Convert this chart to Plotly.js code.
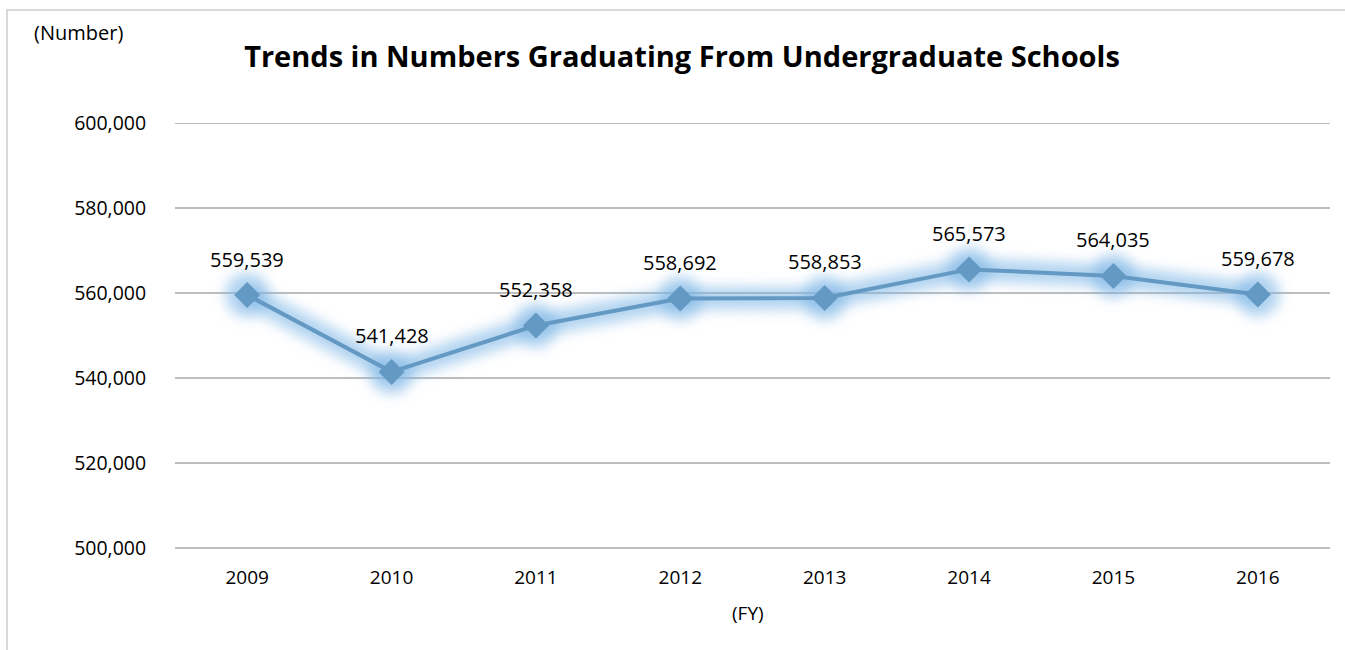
<!DOCTYPE html>
<html>
<head>
<meta charset="utf-8">
<script src="https://cdn.plot.ly/plotly-3.0.1.min.js"></script>
<style>
  html, body { margin: 0; padding: 0; background: #fff; }
  #wrap { position: relative; width: 1345px; height: 650px; overflow: hidden; }
  #chart { width: 1345px; height: 650px; }
  #frame { position: absolute; left: 6px; top: 9px; right: -10px; bottom: -10px;
           border-left: 2px solid #d9d9d9; border-top: 2px solid #d9d9d9; pointer-events: none; }
</style>
</head>
<body>
<div id="wrap">
  <div id="chart"></div>
  <div id="frame"></div>
</div>
<script>
const years = ["2009", "2010", "2011", "2012", "2013", "2014", "2015", "2016"];
const graduates = [559539, 541428, 552358, 558692, 558853, 565573, 564035, 559678];
const yTicks = [500000, 520000, 540000, 560000, 580000, 600000];
const chartTitle = "Trends in Numbers Graduating From Undergraduate Schools";
const yUnit = "(Number)";
const xUnit = "(FY)";

const FONT = "Open Sans, Noto Sans, sans-serif";
const lineColor = "#6399c3";

// y range padded slightly so the 500,000 and 600,000 gridlines are drawn
const yMin = 499000, yMax = 601000;
const pxPerUnit = 425 / 100000;
const plotH = (yMax - yMin) * pxPerUnit;
const topM = 123 - (yMax - 600000) * pxPerUnit;
const botM = 650 - topM - plotH;
const paperY = px => (650 - botM - px) / plotH;
const paperX = px => (px - 175) / 1155;

const glow = {
  x: years, y: graduates, type: "scatter", mode: "lines+markers",
  line: { color: "rgba(125,182,230,0.6)", width: 22 },
  marker: { symbol: "circle", size: 44, color: "rgba(125,182,230,0.6)" },
  hoverinfo: "skip", showlegend: false, cliponaxis: false
};
const main = {
  x: years, y: graduates, type: "scatter", mode: "lines+markers",
  line: { color: lineColor, width: 4 },
  marker: { symbol: "diamond", size: 20, color: lineColor },
  showlegend: false
};

const labelAnns = years.map((yr, i) => ({
  x: i, y: graduates[i], xref: "x", yref: "y",
  text: graduates[i].toLocaleString("en-US"),
  showarrow: false, yshift: 36,
  font: { family: FONT, size: 20, color: "#000" }
}));

const layout = {
  width: 1345, height: 650,
  paper_bgcolor: "#fff", plot_bgcolor: "#fff",
  margin: { l: 175, r: 15, t: topM, b: botM },
  title: {
    text: "<b>" + chartTitle + "</b>",
    x: paperX(682), xanchor: "center", xref: "paper",
    y: 1 - 57 / 650, yanchor: "middle", yref: "container",
    font: { family: FONT, size: 29, color: "#000" }
  },
  xaxis: {
    type: "category", range: [-0.5, 7.5],
    showgrid: false, zeroline: false, showline: false,
    ticks: "outside", ticklen: 8, tickcolor: "rgba(0,0,0,0)",
    tickfont: { family: FONT, size: 19, color: "#000" },
    fixedrange: true
  },
  yaxis: {
    range: [yMin, yMax],
    tickvals: yTicks,
    ticktext: yTicks.map(v => v.toLocaleString("en-US")),
    showgrid: true, gridcolor: "#bdbdbd", gridwidth: 1.5,
    zeroline: false, showline: false,
    ticks: "outside", ticklen: 24, tickcolor: "rgba(0,0,0,0)",
    tickfont: { family: FONT, size: 19.5, color: "#000" },
    fixedrange: true
  },
  annotations: labelAnns.concat([
    { text: yUnit, xref: "paper", yref: "paper", x: paperX(78), y: paperY(32),
      xanchor: "center", yanchor: "middle", showarrow: false,
      font: { family: FONT, size: 20, color: "#000" } },
    { text: xUnit, xref: "paper", yref: "paper", x: paperX(748), y: paperY(613),
      xanchor: "center", yanchor: "middle", showarrow: false,
      font: { family: FONT, size: 19, color: "#000" } }
  ])
};

Plotly.newPlot("chart", [glow, main], layout, { displayModeBar: false, staticPlot: true }).then(() => {
  const NS = "http://www.w3.org/2000/svg";
  const svg = document.querySelector("#chart .main-svg");
  const defs = document.createElementNS(NS, "defs");
  const filter = document.createElementNS(NS, "filter");
  filter.setAttribute("id", "softglow");
  filter.setAttribute("x", "-20%"); filter.setAttribute("y", "-50%");
  filter.setAttribute("width", "140%"); filter.setAttribute("height", "200%");
  const blur = document.createElementNS(NS, "feGaussianBlur");
  blur.setAttribute("stdDeviation", "6.5");
  filter.appendChild(blur);
  defs.appendChild(filter);
  svg.insertBefore(defs, svg.firstChild);
  const traces = document.querySelectorAll("#chart .scatterlayer .trace");
  if (traces.length) traces[0].setAttribute("filter", "url(#softglow)");
});
</script>
</body>
</html>
